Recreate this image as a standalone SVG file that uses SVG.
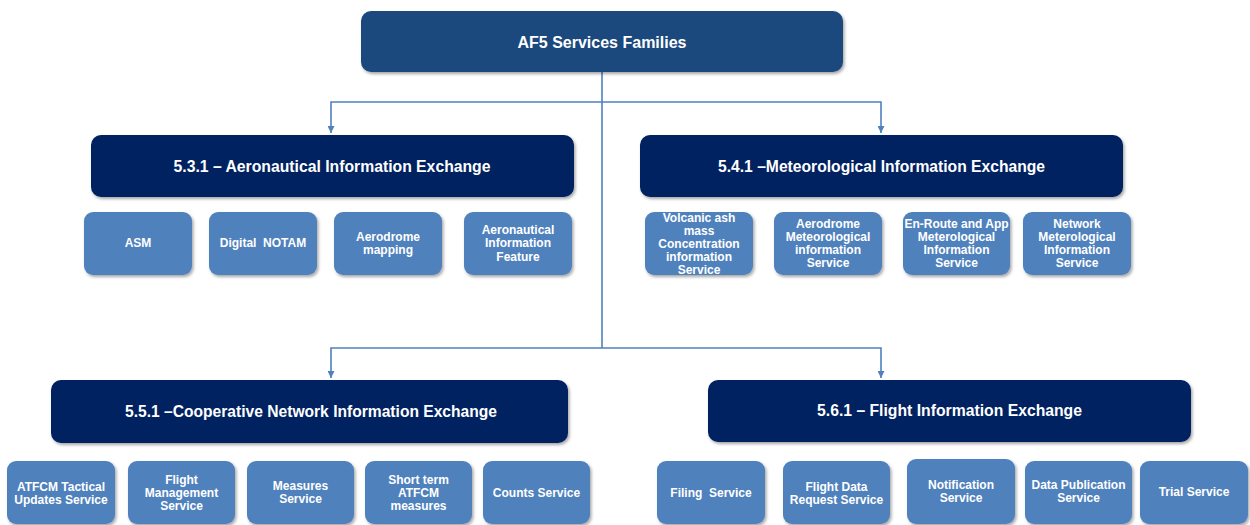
<svg xmlns="http://www.w3.org/2000/svg" width="1250" height="525" viewBox="0 0 1250 525">
  <defs>
    <filter id="sh" x="-10%" y="-10%" width="125%" height="130%">
      <feDropShadow dx="1.5" dy="2" stdDeviation="1.5" flood-color="#000" flood-opacity="0.35"/>
    </filter>
    <marker id="arr" viewBox="0 0 10 10" refX="10" refY="5" markerWidth="7" markerHeight="7" markerUnits="userSpaceOnUse" orient="auto">
      <path d="M0,0 L10,5 L0,10 z" fill="#4f81bd"/>
    </marker>
    <style>
      .top { fill: #1f497d; filter: url(#sh); }
      .fam { fill: #002060; filter: url(#sh); }
      .svc { fill: #4f81bd; filter: url(#sh); }
      .t1 { font-family: "Liberation Sans", Arial, sans-serif; font-weight: bold; font-size: 16px; fill: #ffffff; text-anchor: middle; }
      .t2 { font-family: "Liberation Sans", Arial, sans-serif; font-weight: bold; font-size: 16px; fill: #ffffff; text-anchor: middle; }
      .t3 { font-family: "Liberation Sans", Arial, sans-serif; font-weight: bold; font-size: 12px; fill: #ffffff; text-anchor: middle; }
      .con { fill: none; stroke: #4f81bd; stroke-width: 1.6; }
    </style>
  </defs>
  <rect width="1250" height="525" fill="#ffffff"/>

  <g id="connectors">
    <path class="con" d="M602,72 V348"/>
    <path class="con" d="M602,102 H331 V133" marker-end="url(#arr)"/>
    <path class="con" d="M602,102 H881 V133" marker-end="url(#arr)"/>
    <path class="con" d="M602,348 H331 V378" marker-end="url(#arr)"/>
    <path class="con" d="M602,348 H881 V378" marker-end="url(#arr)"/>
  </g>

  <g id="af5">
    <rect class="top" x="361" y="11" width="482" height="61" rx="10"/>
    <text class="t1" x="602" y="47.5">AF5 Services Families</text>
  </g>

  <g id="fam531">
    <rect class="fam" x="91" y="135" width="483" height="62" rx="10"/>
    <text class="t2" x="332" y="171.5" textLength="317" lengthAdjust="spacingAndGlyphs">5.3.1 – Aeronautical Information Exchange</text>
  </g>
  <g id="fam541">
    <rect class="fam" x="640" y="135" width="483" height="62" rx="10"/>
    <text class="t2" x="881.5" y="171.5" textLength="327" lengthAdjust="spacingAndGlyphs">5.4.1 –Meteorological Information Exchange</text>
  </g>
  <g id="fam551">
    <rect class="fam" x="51" y="380" width="517" height="63" rx="10"/>
    <text class="t2" x="311" y="416.5" textLength="372" lengthAdjust="spacingAndGlyphs">5.5.1 –Cooperative Network Information Exchange</text>
  </g>
  <g id="fam561">
    <rect class="fam" x="708" y="380" width="483" height="62" rx="10"/>
    <text class="t2" x="949.5" y="415.5" textLength="265" lengthAdjust="spacingAndGlyphs">5.6.1 – Flight Information Exchange</text>
  </g>

  <!-- Row 1 left -->
  <g id="asm">
    <rect class="svc" x="84" y="212" width="108" height="63" rx="9"/>
    <text class="t3" x="138" y="247">ASM</text>
  </g>
  <g id="digital-notam">
    <rect class="svc" x="209" y="212" width="108" height="63" rx="9"/>
    <text class="t3" x="263" y="247" xml:space="preserve">Digital  NOTAM</text>
  </g>
  <g id="aerodrome-mapping">
    <rect class="svc" x="334" y="212" width="108" height="63" rx="9"/>
    <text class="t3" x="388" y="241">Aerodrome</text>
    <text class="t3" x="388" y="254">mapping</text>
  </g>
  <g id="aero-info-feature">
    <rect class="svc" x="464" y="212" width="108" height="63" rx="9"/>
    <text class="t3" x="518" y="234">Aeronautical</text>
    <text class="t3" x="518" y="247">Information</text>
    <text class="t3" x="518" y="261">Feature</text>
  </g>

  <!-- Row 1 right -->
  <g id="volcanic">
    <rect class="svc" x="645" y="212" width="108" height="63" rx="9"/>
    <text class="t3" x="699" y="221.5">Volcanic ash</text>
    <text class="t3" x="699" y="234.5">mass</text>
    <text class="t3" x="699" y="247.5">Concentration</text>
    <text class="t3" x="699" y="260.5">information</text>
    <text class="t3" x="699" y="273.5">Service</text>
  </g>
  <g id="aerodrome-met">
    <rect class="svc" x="774" y="212" width="108" height="63" rx="9"/>
    <text class="t3" x="828" y="228">Aerodrome</text>
    <text class="t3" x="828" y="241">Meteorological</text>
    <text class="t3" x="828" y="254">information</text>
    <text class="t3" x="828" y="267">Service</text>
  </g>
  <g id="enroute-met">
    <rect class="svc" x="903" y="212" width="107" height="63" rx="9"/>
    <text class="t3" x="956.5" y="228">En-Route and App</text>
    <text class="t3" x="956.5" y="241">Meterological</text>
    <text class="t3" x="956.5" y="254">Information</text>
    <text class="t3" x="956.5" y="267">Service</text>
  </g>
  <g id="network-met">
    <rect class="svc" x="1023" y="212" width="108" height="63" rx="9"/>
    <text class="t3" x="1077" y="228">Network</text>
    <text class="t3" x="1077" y="241">Meterological</text>
    <text class="t3" x="1077" y="254">Information</text>
    <text class="t3" x="1077" y="267">Service</text>
  </g>

  <!-- Row 2 left -->
  <g id="atfcm-tactical">
    <rect class="svc" x="7" y="461" width="108" height="63" rx="9"/>
    <text class="t3" x="61" y="491">ATFCM Tactical</text>
    <text class="t3" x="61" y="504">Updates Service</text>
  </g>
  <g id="flight-mgmt">
    <rect class="svc" x="128" y="461" width="107" height="63" rx="9"/>
    <text class="t3" x="181.5" y="484">Flight</text>
    <text class="t3" x="181.5" y="497">Management</text>
    <text class="t3" x="181.5" y="510">Service</text>
  </g>
  <g id="measures">
    <rect class="svc" x="247" y="461" width="107" height="63" rx="9"/>
    <text class="t3" x="300.5" y="490">Measures</text>
    <text class="t3" x="300.5" y="503">Service</text>
  </g>
  <g id="short-term">
    <rect class="svc" x="365" y="461" width="107" height="63" rx="9"/>
    <text class="t3" x="418.5" y="484">Short term</text>
    <text class="t3" x="418.5" y="497">ATFCM</text>
    <text class="t3" x="418.5" y="510">measures</text>
  </g>
  <g id="counts">
    <rect class="svc" x="483" y="461" width="107" height="63" rx="9"/>
    <text class="t3" x="536.5" y="497">Counts Service</text>
  </g>

  <!-- Row 2 right -->
  <g id="filing">
    <rect class="svc" x="657" y="461" width="108" height="63" rx="9"/>
    <text class="t3" x="711" y="497" xml:space="preserve">Filing  Service</text>
  </g>
  <g id="flight-data">
    <rect class="svc" x="783" y="461" width="107" height="63" rx="9"/>
    <text class="t3" x="836.5" y="491">Flight Data</text>
    <text class="t3" x="836.5" y="504">Request Service</text>
  </g>
  <g id="notification">
    <rect class="svc" x="907" y="459" width="108" height="65" rx="9"/>
    <text class="t3" x="961" y="489">Notification</text>
    <text class="t3" x="961" y="502">Service</text>
  </g>
  <g id="data-publication">
    <rect class="svc" x="1025" y="461" width="107" height="63" rx="9"/>
    <text class="t3" x="1078.5" y="489">Data Publication</text>
    <text class="t3" x="1078.5" y="502">Service</text>
  </g>
  <g id="trial">
    <rect class="svc" x="1140" y="461" width="108" height="63" rx="9"/>
    <text class="t3" x="1194" y="496">Trial Service</text>
  </g>
</svg>
